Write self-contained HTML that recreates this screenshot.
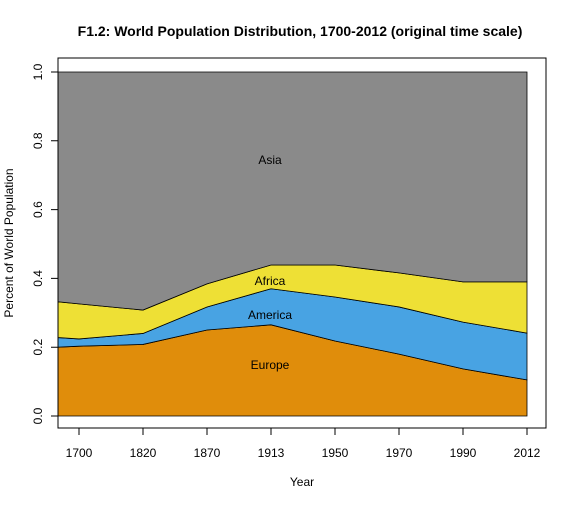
<!DOCTYPE html>
<html><head><meta charset="utf-8"><style>
body{margin:0;background:#fff}
svg text{font-family:"Liberation Sans",Arial,sans-serif}
</style></head><body>
<svg id="chart" width="576" height="504" xmlns="http://www.w3.org/2000/svg">
<text x="300" y="36" text-anchor="middle" font-size="14" font-weight="bold">F1.2: World Population Distribution, 1700-2012 (original time scale)</text>
<g id="areas"></g>
<g id="axes"></g>
<rect x="58" y="58" width="488" height="370" fill="none" stroke="#000"/>
<text x="302" y="486" text-anchor="middle" font-size="12">Year</text>
<text transform="translate(13,243) rotate(-90)" text-anchor="middle" font-size="12">Percent of World Population</text>
</svg>
<script>
const years = ["1700","1820","1870","1913","1950","1970","1990","2012"];
const europe = [0.203,0.208,0.25,0.265,0.218,0.18,0.137,0.105];
const americaCum = [0.224,0.24,0.317,0.37,0.346,0.317,0.273,0.241];
const africaCum = [0.326,0.308,0.384,0.439,0.439,0.416,0.39,0.39];
const asiaCum = [1,1,1,1,1,1,1,1];
const leftEdge = {europe:0.2, america:0.228, africa:0.332};
const yTicks = [0,0.2,0.4,0.6,0.8,1.0];
const NS="http://www.w3.org/2000/svg";
const xs = i => 79 + i*64;
const ys = v => 416 - v*344;
const X0 = 58;
const areas = document.getElementById('areas');
function band(lower, upper, lowL, upL, color, name){
  let pts=[[X0,ys(upL)]];
  upper.forEach((v,i)=>pts.push([xs(i),ys(v)]));
  for(let i=lower.length-1;i>=0;i--) pts.push([xs(i),ys(lower[i])]);
  pts.push([X0,ys(lowL)]);
  const p=document.createElementNS(NS,'polygon');
  p.setAttribute('points',pts.map(a=>a.join(',')).join(' '));
  p.setAttribute('fill',color);p.setAttribute('stroke','#000');p.setAttribute('stroke-width','0.8');
  
  
  areas.appendChild(p);
}
const zeros = years.map(()=>0);
band(zeros, europe, 0, leftEdge.europe, '#E08D0B', 'europe-area');
band(europe, americaCum, leftEdge.europe, leftEdge.america, '#48A3E3', 'america-area');
band(americaCum, africaCum, leftEdge.america, leftEdge.africa, '#EEE035', 'africa-area');
band(africaCum, asiaCum, leftEdge.africa, 1, '#8A8A8A', 'asia-area');
function lbl(t,x,y,name){
  const e=document.createElementNS(NS,'text');
  e.setAttribute('x',x);e.setAttribute('y',y);e.setAttribute('text-anchor','middle');e.setAttribute('font-size','12');
  e.textContent=t;
  
  
  areas.appendChild(e);
}
lbl('Asia',270,164,'asia-label');
lbl('Africa',270,285,'africa-label');
lbl('America',270,319,'america-label');
lbl('Europe',270,369,'europe-label');
const axes=document.getElementById('axes');
let d='M58,'+ys(0)+'V'+ys(1);
yTicks.forEach(v=>{
  d+='M58,'+ys(v)+'H51';
  const t=document.createElementNS(NS,'text');
  t.setAttribute('transform','translate(42,'+ys(v)+') rotate(-90)');
  t.setAttribute('text-anchor','middle');t.setAttribute('font-size','12');
  t.textContent=v.toFixed(1);
  
  
  axes.appendChild(t);
});
d+='M'+xs(0)+',428H'+xs(years.length-1);
years.forEach((y,i)=>{
  d+='M'+xs(i)+',428V435';
  const t=document.createElementNS(NS,'text');
  t.setAttribute('x',xs(i));t.setAttribute('y',457);t.setAttribute('text-anchor','middle');t.setAttribute('font-size','12');
  t.textContent=y;
  
  
  axes.appendChild(t);
});
const ap=document.createElementNS(NS,'path');
ap.setAttribute('d',d);ap.setAttribute('stroke','#000');ap.setAttribute('fill','none');


axes.appendChild(ap);
</script>
</body></html>
